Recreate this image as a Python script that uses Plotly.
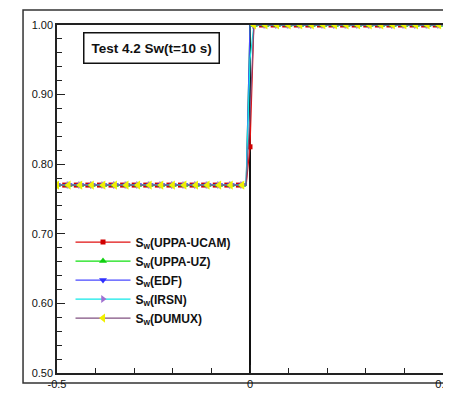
import plotly.graph_objects as go

# ---- data ----
x = [round(-0.5 + 0.01 * k, 2) for k in range(101)]
left_value = 0.77
right_value = 1.00
# value at x = 0 for each series (transition point)
mid_values = {
    "UPPA-UCAM": 0.825,
    "UPPA-UZ": 1.00,
    "EDF": 1.00,
    "IRSN": 0.95,
    "DUMUX": 0.87,
}
series_names = ["UPPA-UCAM", "UPPA-UZ", "EDF", "IRSN", "DUMUX"]


def profile(name):
    return [left_value if xi < 0 else (mid_values[name] if xi == 0 else right_value) for xi in x]


# ---- styles ----
line_colors = {"UPPA-UCAM": "#e01010", "UPPA-UZ": "#10e010", "EDF": "#4848ff",
               "IRSN": "#10e8e8", "DUMUX": "#805080"}
marker_colors = {"UPPA-UCAM": "#d00000", "UPPA-UZ": "#10d010", "EDF": "#3030ff",
                 "IRSN": "#a070d0", "DUMUX": "#f0f000"}
symbols = {"UPPA-UCAM": "square", "UPPA-UZ": "triangle-up", "EDF": "triangle-down",
           "IRSN": "triangle-right", "DUMUX": "triangle-left"}
msize = {"UPPA-UCAM": 5, "UPPA-UZ": 7, "EDF": 7, "IRSN": 7, "DUMUX": 8}
offsets = {"UPPA-UCAM": 1, "UPPA-UZ": 0, "EDF": 0, "IRSN": 0, "DUMUX": 0}

fig = go.Figure()
for name in series_names:
    y = profile(name)
    shown = [k for k in range(len(x))
             if (k + offsets[name]) % 3 == 0 or (name == "UPPA-UCAM" and x[k] == 0)]
    fig.add_trace(go.Scatter(
        x=x, y=y, mode="lines+markers",
        name="<b>S<sub>w</sub>(" + name + ")</b>",
        line=dict(color=line_colors[name], width=1.2),
        marker=dict(symbol=symbols[name], color=marker_colors[name], size=msize[name],
                    line=dict(width=0)),
        selectedpoints=shown,
        selected=dict(marker=dict(opacity=1)),
        unselected=dict(marker=dict(opacity=0)),
    ))

axis_common = dict(
    showgrid=False, showline=True, linecolor="#222222", linewidth=1.5, mirror=True,
    ticks="inside", ticklen=8, tickwidth=1, tickcolor="#222222",
    tickfont=dict(family="Liberation Sans, Arial", size=11, color="#111111"),
    ticklabeloverflow="allow",
)
fig.update_xaxes(range=[-0.5, 0.5], tickvals=[-0.5, 0, 0.5], ticktext=["-0.5", "0", "0.5"],
                 minor=dict(ticks="inside", ticklen=5, dtick=0.1, tickcolor="#222222"),
                 zeroline=True, zerolinecolor="#111111", zerolinewidth=1.5, **axis_common)
fig.update_yaxes(range=[0.5, 1.0], dtick=0.1, tickformat=".2f",
                 minor=dict(ticks="inside", ticklen=5, dtick=0.02, tickcolor="#222222"),
                 zeroline=False, **axis_common)

# page has an 8px body margin, so the figure is 8px smaller in each direction
fig.update_layout(
    width=443, height=390,
    margin=dict(l=49, r=8, t=17, b=25, autoexpand=False),
    paper_bgcolor="white", plot_bgcolor="white",
    showlegend=True,
    dragmode=False,
    legend=dict(x=0.035, y=0.418, xanchor="left", yanchor="top", bgcolor="rgba(0,0,0,0)",
                font=dict(family="Liberation Sans, Arial", size=12, color="#111111"),
                tracegroupgap=0, itemwidth=55),
    shapes=[dict(type="rect", xref="paper", yref="paper", x0=-0.088, x1=1.05, y0=-0.029, y1=1.043,
                 line=dict(color="#333333", width=1.5), fillcolor="rgba(0,0,0,0)", layer="below")],
    annotations=[dict(text="<b>Test 4.2 Sw(t=10 s)</b>", xref="paper", yref="paper",
                      x=0.067, y=0.98, xanchor="left", yanchor="top", showarrow=False,
                      font=dict(family="Liberation Sans, Arial", size=13.5, color="#111111"),
                      bordercolor="#111111", borderwidth=1.5, borderpad=7, bgcolor="white")],
)

fig.write_html("out.html")
